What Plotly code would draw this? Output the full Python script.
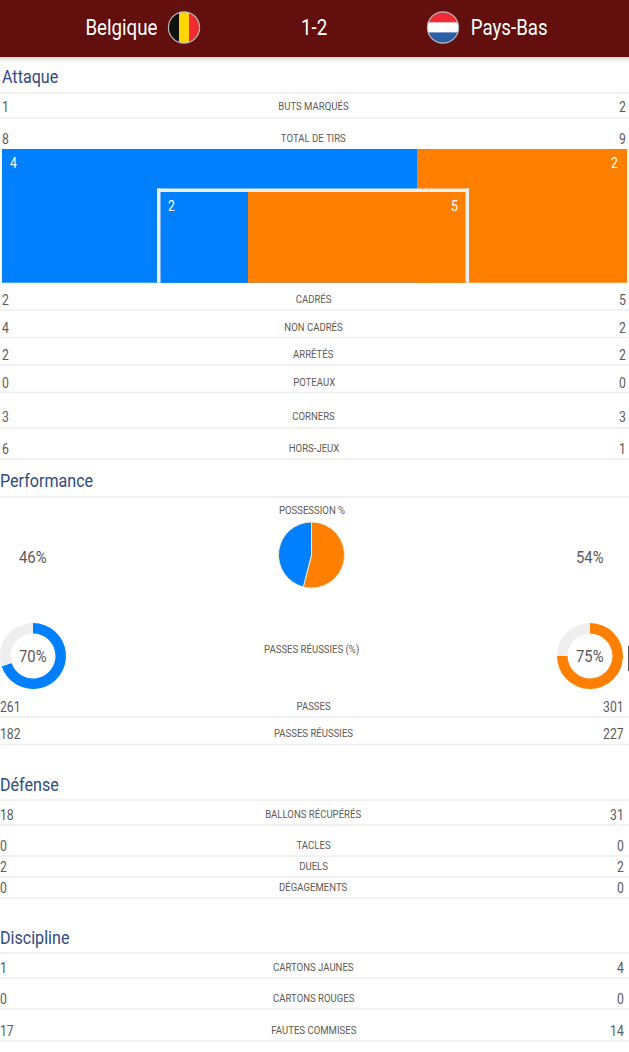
import math
import plotly.graph_objects as go

# ---- data ----
teams = ["Belgique", "Pays-Bas"]
score = "1-2"
attack_labels = ["BUTS MARQUÉS", "TOTAL DE TIRS", "CADRÉS", "NON CADRÉS", "ARRÊTÉS", "POTEAUX", "CORNERS", "HORS-JEUX"]
attack_home = [1, 8, 2, 4, 2, 0, 3, 6]
attack_away = [2, 9, 5, 2, 2, 0, 3, 1]
perf_labels = ["PASSES", "PASSES RÉUSSIES"]
perf_home = [261, 182]
perf_away = [301, 227]
def_labels = ["BALLONS RÉCUPÉRÉS", "TACLES", "DUELS", "DÉGAGEMENTS"]
def_home = [18, 0, 2, 0]
def_away = [31, 0, 2, 0]
disc_labels = ["CARTONS JAUNES", "CARTONS ROUGES", "FAUTES COMMISES"]
disc_home = [1, 0, 17]
disc_away = [4, 0, 14]
off_target = [4, 2]
on_target = [2, 5]
possession = [46, 54]
pass_pct = [70, 75]

# ---- layout constants ----
W, H = 629, 1052
BLUE, ORANGE = "#007fff", "#ff7f00"
FONT = "Roboto, sans-serif"
VAL, LAB, TITLE = "#5a5a5a", "#5f5a55", "#2f4a82"

rows = [
    (attack_labels, attack_home, attack_away, [106.5, 138.5, 299.5, 327.5, 355, 382.5, 416.5, 448.5], 0.5, 627),
    (perf_labels, perf_home, perf_away, [706.5, 734], -1, 624.5),
    (def_labels, def_home, def_away, [814.5, 845.5, 866.5, 887.5], -1, 624.5),
    (disc_labels, disc_home, disc_away, [967.5, 998.5, 1030.5], -1, 624.5),
]
separators = [93, 118, 310, 337.5, 365, 392.5, 428, 459, 497, 717, 744.5, 800, 825, 856, 877, 898, 953, 978, 1009, 1041]
sections = [("Attaque", 77, 0.5), ("Performance", 481, -1), ("Défense", 784.5, -1), ("Discipline", 938, -1)]

fig = go.Figure()
shapes, ann = [], []


def rect(x0, y0, x1, y1, color, layer="below"):
    shapes.append(dict(type="rect", xref="x", yref="y", x0=x0, y0=y0, x1=x1, y1=y1,
                       fillcolor=color, line_width=0, layer=layer))


def text(x, y, s, size, color, anchor="center"):
    # anything left of the axis would be hidden, so a negative x is applied as a pixel shift
    ann.append(dict(xref="x", yref="y", x=max(x, 0), xshift=min(x, 0), y=y, text=s, showarrow=False,
                    xanchor=anchor, align=anchor, borderpad=0, yanchor="middle",
                    font=dict(family=FONT, size=size, color=color)))


def band(cx, cy, r, u0, u1, color, vertical):
    """Slice of a disc between two offsets along one axis, as an SVG path."""
    pts = []
    n = 24
    for i in range(n + 1):
        u = u0 + (u1 - u0) * i / n
        h = math.sqrt(max(r * r - u * u, 0))
        pts.append((u, -h))
    for i in range(n, -1, -1):
        u = u0 + (u1 - u0) * i / n
        h = math.sqrt(max(r * r - u * u, 0))
        pts.append((u, h))
    if vertical:
        xy = [(cx + a, cy + b) for a, b in pts]
    else:
        xy = [(cx + b, cy + a) for a, b in pts]
    path = "M" + " L".join(f"{a:.2f},{b:.2f}" for a, b in xy) + " Z"
    shapes.append(dict(type="path", xref="x", yref="y", path=path, fillcolor=color, line_width=0, layer="above"))


def flag(cx, cy, colors, vertical):
    r = 15
    shapes.append(dict(type="circle", xref="x", yref="y", x0=cx - r - 1.2, x1=cx + r + 1.2,
                       y0=cy - r - 1.2, y1=cy + r + 1.2, fillcolor="#b9b9b9", line_width=0, layer="above"))
    w = 2 * r / 3
    for i, c in enumerate(colors):
        band(cx, cy, r, -r + i * w, -r + (i + 1) * w, c, vertical)


# header
rect(0, 0, W, 57, "#620f0d")
for i, c in enumerate(["#d9d9d9", "#e6e6e6", "#eeeeee", "#f3f3f3", "#f7f7f7", "#fafafa", "#fcfcfc", "#fefefe"]):
    rect(0, 57 + i, W, 58 + i, c)
text(121, 27.5, teams[0], 21.5, "white")
text(314, 27.5, score, 21.5, "white")
text(508.5, 27.5, teams[1], 21.5, "white")
flag(184, 27.5, ["#111111", "#ffd500", "#ef2b2d"], True)
flag(443, 27.5, ["#f42a36", "#ffffff", "#2a5ea8"], False)

# text rows
for y in separators:
    rect(0, y - 0.7, W, y + 0.7, "#eeeeee")
for labels, home, away, ys, xl, xr in rows:
    for lab, a, b, y in zip(labels, home, away, ys):
        text(xl, y, str(a), 14, VAL, "left")
        text(xr, y, str(b), 14, VAL, "right")
        text(313.5, y - 0.5, lab, 11, LAB)
for name, y, x in sections:
    text(x, y, name, 18.5, TITLE, "left")

text(311.5, 510.5, "POSSESSION %", 11, LAB)
text(311.5, 649, "PASSES RÉUSSIES (%)", 11, LAB)
text(33, 556.5, f"{possession[0]}%", 17, VAL)
text(590, 556.5, f"{possession[1]}%", 17, VAL)
text(33, 656, f"{pass_pct[0]}%", 17, VAL)
text(590, 656, f"{pass_pct[1]}%", 17, VAL)

# overlay pixel axes
fig.add_trace(go.Scatter(x=[0, W], y=[0, H], mode="markers", marker=dict(opacity=0), hoverinfo="skip",
                         showlegend=False, xaxis="x", yaxis="y"))

# shot bars
for val, col in zip(off_target, [BLUE, ORANGE]):
    fig.add_trace(go.Bar(y=[0], x=[val], orientation="h", marker=dict(color=col, line_width=0), width=1,
                         showlegend=False, xaxis="x2", yaxis="y2", hoverinfo="skip",
                         text=[str(val)], textposition="none"))
for val, col in zip(on_target, [BLUE, ORANGE]):
    fig.add_trace(go.Bar(y=[0], x=[val], orientation="h", marker=dict(color=col, line_width=0), width=1,
                         showlegend=False, xaxis="x3", yaxis="y3", hoverinfo="skip",
                         text=[str(val)], textposition="none"))
# the outer bar's right end runs on past its scale in the reference
rect(624, 149, 627, 282.7, ORANGE)

# goal frame
FR = "#eeeeee"
rect(157, 188.5, 469, 192, FR, "above")
rect(157, 188.5, 160.5, 282.7, FR, "above")
rect(465.5, 188.5, 469, 282.7, FR, "above")
text(8.5, 162.5, str(off_target[0]), 14, "white", "left")
text(619, 162.5, str(off_target[1]), 14, "white", "right")
text(167, 205.5, str(on_target[0]), 14, "white", "left")
text(459, 205.5, str(on_target[1]), 14, "white", "right")

rect(628, 646, 629, 671, "#555555", "above")


def dom(x0, x1, y0, y1):
    return dict(x=[x0 / W, x1 / W], y=[1 - y1 / H, 1 - y0 / H])


fig.add_trace(go.Pie(values=possession[::-1], marker=dict(colors=[ORANGE, BLUE], line=dict(color="#f5e8cc", width=1)),
                     sort=False, direction="clockwise", rotation=0, textinfo="none", hoverinfo="skip",
                     showlegend=False, domain=dom(278.5, 344.5, 522, 588)))
for pct, col, cx in zip(pass_pct, [BLUE, ORANGE], [33, 590]):
    fig.add_trace(go.Pie(values=[pct, 100 - pct], marker=dict(colors=[col, "#eeeeee"], line_width=0), hole=0.68,
                         sort=False, direction="clockwise", rotation=0, textinfo="none", hoverinfo="skip",
                         showlegend=False, domain=dom(cx - 33, cx + 33, 623, 689)))

hidden = dict(visible=False, showgrid=False, zeroline=False, fixedrange=True)
fig.update_layout(
    width=W, height=H, margin=dict(l=0, r=0, t=0, b=0), autosize=False,
    paper_bgcolor="white", plot_bgcolor="rgba(0,0,0,0)", barmode="stack",
    shapes=shapes, annotations=ann,
    xaxis=dict(range=[0, W], domain=[0, 1], **hidden),
    yaxis=dict(range=[H, 0], domain=[0, 1], **hidden),
    xaxis2=dict(range=[0, sum(off_target)], domain=[2 / W, 624.5 / W], anchor="y2", **hidden),
    yaxis2=dict(range=[-0.5, 0.5], domain=[1 - 282.7 / H, 1 - 149 / H], anchor="x2", **hidden),
    xaxis3=dict(range=[0, sum(on_target)], domain=[160.5 / W, 466 / W], anchor="y3", **hidden),
    yaxis3=dict(range=[-0.5, 0.5], domain=[1 - 282.7 / H, 1 - 190 / H], anchor="x3", **hidden),
)
# no condensed face is installed: narrow the real Roboto text to the reference's width
narrow = """
document.body.style.margin='0';
document.querySelectorAll('.annotation-text').forEach(function(t){
  var l = t.getComputedTextLength();
  t.setAttribute('textLength', (l*0.87).toFixed(2));
  t.setAttribute('lengthAdjust', 'spacingAndGlyphs');
});
"""
fig.write_html("out.html", config=dict(displayModeBar=False), post_script=narrow)
